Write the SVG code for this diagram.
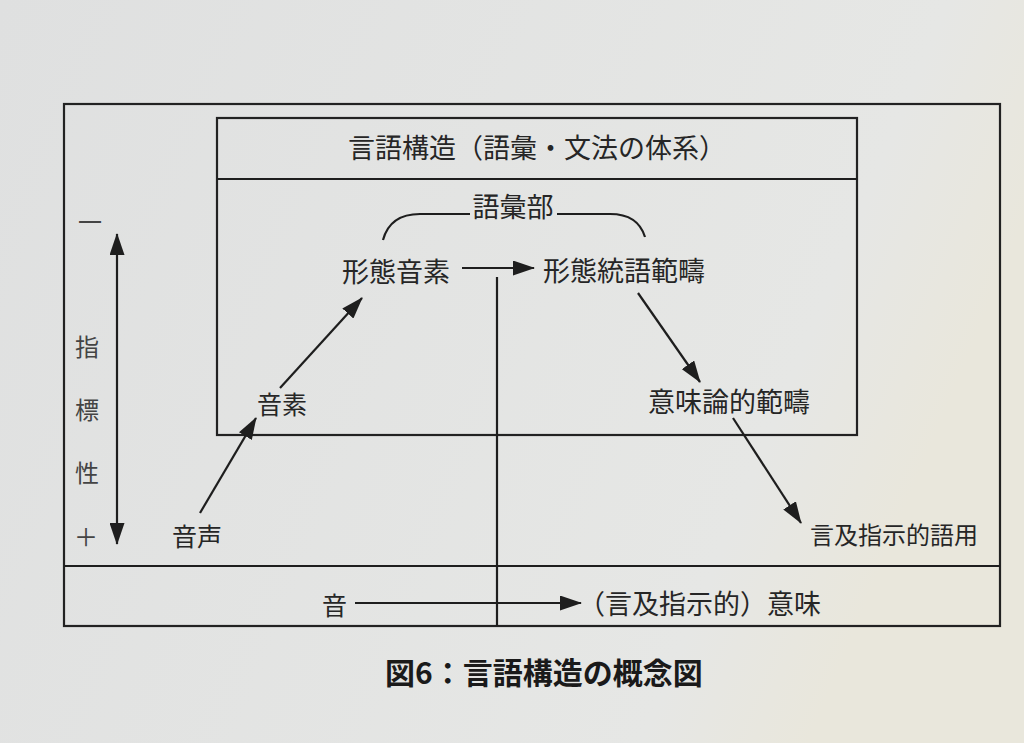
<svg xmlns="http://www.w3.org/2000/svg" width="1024" height="743" viewBox="0 0 1024 743">
<defs>
<style>
text{font-family:"Noto Sans CJK JP","Noto Sans CJK SC",sans-serif;fill:#262626;}
.t{font-size:27px;}
.s{font-size:25px;}
.ax{font-size:24px;fill:#444;text-anchor:middle;}
.cap{font-size:30px;font-weight:bold;fill:#1a1a1a;}
.box{fill:none;stroke:#222;stroke-width:2.2;}
.ln{fill:none;stroke:#1e1e1e;stroke-width:2.2;}
</style>
<marker id="a" viewBox="0 0 22 15" refX="21" refY="7.5" markerWidth="22" markerHeight="15" markerUnits="userSpaceOnUse" orient="auto-start-reverse">
<path d="M0,0 L22,7.5 L0,15 Z" fill="#1e1e1e"/>
</marker>
<linearGradient id="bg" x1="0" y1="0" x2="1" y2="0.3">
<stop offset="0" stop-color="#dfe0e0"/>
<stop offset="0.85" stop-color="#e6e7e5"/>
<stop offset="1" stop-color="#e9e7dc"/>
</linearGradient>
</defs>
<rect width="1024" height="743" fill="url(#bg)"/>

<g id="frame">
<rect class="box" x="64" y="104" width="936" height="522" stroke-width="3"/>
<line class="ln" x1="64" y1="566" x2="1000" y2="566"/>
</g>

<g id="language-structure">
<rect class="box" x="217" y="118" width="640" height="317"/>
<line class="ln" x1="217" y1="179" x2="857" y2="179"/>
<text class="t" x="537" y="158" text-anchor="middle">言語構造（語彙・文法の体系）</text>
</g>

<g id="lexicon">
<text class="t" x="513" y="217" text-anchor="middle">語彙部</text>
<path class="ln" d="M383,240 Q390,214 420,214 L470,214"/>
<path class="ln" d="M557,214 L610,214 Q638,214 645,237"/>
</g>

<g id="morphophoneme"><text class="t" x="342" y="282">形態音素</text></g>
<g id="morphosyntactic"><text class="t" x="543" y="281">形態統語範疇</text></g>
<g id="semantic"><text class="t" x="648" y="412">意味論的範疇</text></g>
<g id="phoneme"><text class="s" x="257" y="414">音素</text></g>
<g id="speech-sound"><text class="s" x="172" y="546">音声</text></g>
<g id="pragmatics"><text style="font-size:24px" x="810" y="544">言及指示的語用</text></g>
<g id="sound"><text class="s" x="322" y="615">音</text></g>
<g id="meaning"><text class="t" x="578" y="614">（言及指示的）意味</text></g>

<g id="indexicality-axis">
<text class="ax" x="90" y="231">一</text>
<text class="ax" x="87" y="356">指</text>
<text class="ax" x="87" y="419">標</text>
<text class="ax" x="87" y="482">性</text>
<text class="ax" x="86" y="546">＋</text>
</g>

<g id="connectors">
<line class="ln" x1="117" y1="234" x2="117" y2="544" marker-start="url(#a)" marker-end="url(#a)"/>
<line class="ln" x1="462" y1="268" x2="534" y2="268" marker-end="url(#a)"/>
<line class="ln" x1="638" y1="293" x2="700" y2="382" marker-end="url(#a)"/>
<line class="ln" x1="733" y1="418" x2="801" y2="523" marker-end="url(#a)"/>
<line class="ln" x1="280" y1="388" x2="362" y2="298" marker-end="url(#a)"/>
<line class="ln" x1="200" y1="513" x2="256" y2="418" marker-end="url(#a)"/>
<line class="ln" x1="355" y1="603" x2="581" y2="603" marker-end="url(#a)"/>
<line class="ln" x1="497" y1="277" x2="497" y2="626"/>
</g>

<g id="caption"><text class="cap" x="385" y="684">図6：言語構造の概念図</text></g>
</svg>
